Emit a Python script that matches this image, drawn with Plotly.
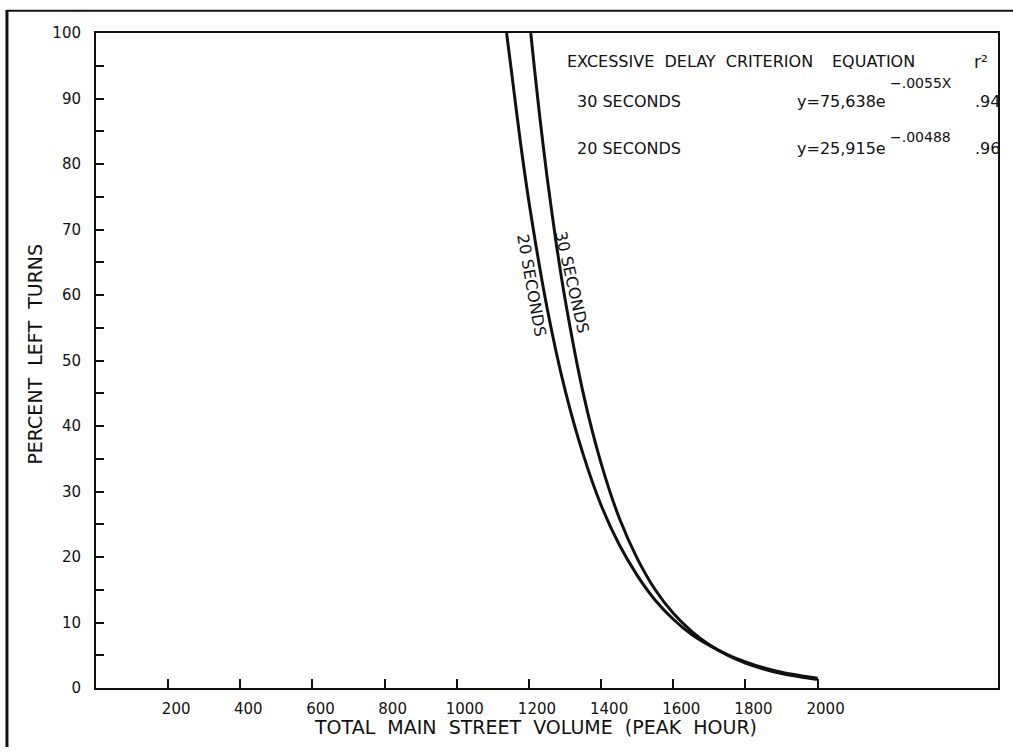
import plotly.graph_objects as go

# Percent left turns vs. total main street volume (peak hour), per delay criterion
vol_20s = [1138, 1150, 1175, 1200, 1250, 1300, 1350, 1400, 1450, 1500,
           1550, 1600, 1650, 1700, 1750, 1800, 1850, 1900, 1950, 2000]
pct_20s = [100, 94.8, 83.9, 74.2, 58.1, 45.5, 35.7, 27.9, 21.9, 17.2,
           13.4, 10.5, 8.2, 6.5, 5.1, 4.0, 3.1, 2.4, 1.9, 1.5]

vol_30s = [1205, 1215, 1230, 1250, 1275, 1300, 1350, 1400, 1450, 1500,
           1550, 1600, 1650, 1700, 1750, 1800, 1850, 1900, 1950, 2000]
pct_30s = [100, 94.7, 87.2, 78.1, 68.1, 59.4, 45.1, 34.3, 26.0, 19.8,
           15.0, 11.4, 8.7, 6.6, 5.0, 3.8, 2.9, 2.2, 1.7, 1.3]

x_ticks = [200, 400, 600, 800, 1000, 1200, 1400, 1600, 1800, 2000]
y_ticks = [0, 10, 20, 30, 40, 50, 60, 70, 80, 90, 100]
y_minor = [5, 15, 25, 35, 45, 55, 65, 75, 85, 95]

# Criterion table rows
crit_labels = ["30 SECONDS", "20 SECONDS"]
eq_base = ["y=75,638e", "y=25,915e"]
eq_exp = ["\u2212.0055X", "\u2212.00488"]
r2_vals = [".94", ".96"]

FONT = "DejaVu Sans"
INK = "#111111"
SP2 = "\u00a0\u00a0"

fig = go.Figure()
for xs, ys in [(vol_20s, pct_20s), (vol_30s, pct_30s)]:
    fig.add_trace(go.Scatter(x=xs, y=ys, mode="lines",
                             line=dict(color=INK, width=3, shape="spline", smoothing=0.6),
                             showlegend=False, hoverinfo="skip"))

fig.update_layout(
    width=1013, height=755,
    margin=dict(l=96, r=15, t=33, b=67),
    paper_bgcolor="white", plot_bgcolor="white",
    font=dict(family=FONT, size=15, color=INK),
    xaxis=dict(range=[0, 2500], showgrid=False, zeroline=False,
               showline=True, linewidth=2, linecolor=INK, mirror=True,
               ticks="inside", ticklen=9, tickwidth=2, tickcolor=INK,
               tickvals=x_ticks, ticktext=[str(v) for v in x_ticks],
               ticklabelshift=8, ticklabelstandoff=6),
    yaxis=dict(range=[0, 100], showgrid=False, zeroline=False,
               showline=True, linewidth=2, linecolor=INK, mirror=True,
               ticks="inside", ticklen=8, tickwidth=2, tickcolor=INK,
               tickvals=y_ticks, ticktext=[str(v) for v in y_ticks],
               ticklabelstandoff=10,
               minor=dict(tickvals=y_minor, ticks="inside", ticklen=8,
                          tickwidth=2, tickcolor=INK)),
)

def note(x, y, text, anchor="left", size=16, angle=0):
    fig.add_annotation(x=x, y=y, xref="x", yref="y", text=text, showarrow=False,
                       xanchor=anchor, yanchor="middle", textangle=angle,
                       font=dict(family=FONT, size=size, color=INK))

# Axis titles
fig.add_annotation(x=0.487, y=-0.0595, xref="paper", yref="paper", showarrow=False,
                   xanchor="center", yanchor="middle",
                   text=SP2.join(["TOTAL", "MAIN", "STREET", "VOLUME", "(PEAK", "HOUR)"]),
                   font=dict(family=FONT, size=19, color=INK))
fig.add_annotation(x=-0.068, y=0.51, xref="paper", yref="paper", showarrow=False,
                   xanchor="center", yanchor="middle", textangle=-90,
                   text=SP2.join(["PERCENT", "LEFT", "TURNS"]),
                   font=dict(family=FONT, size=19, color=INK))

# Table heading
note(1300, 95.6, SP2.join(["EXCESSIVE", "DELAY", "CRITERION"]))
note(2034, 95.6, "EQUATION")
note(2428, 95.6, "r\u00b2", size=17)

row_y = [89.5, 82.4]
exp_y = [92.4, 84.1]
for i in range(2):
    note(1328, row_y[i], crit_labels[i])
    note(2195, row_y[i], eq_base[i], anchor="right")
    note(2195, exp_y[i], eq_exp[i], size=14)
    note(2431, row_y[i], r2_vals[i])

# Curve labels written along the curves
note(1208, 61.5, "20 SECONDS", anchor="center", angle=80)
note(1318, 62.0, "30 SECONDS", anchor="center", angle=77)

# Outer frame lines
fig.add_shape(type="line", xref="paper", yref="paper",
              x0=-0.0987, x1=-0.0987, y0=1.035, y1=-0.09,
              line=dict(color=INK, width=3))
fig.add_shape(type="line", xref="paper", yref="paper",
              x0=-0.0987, x1=1.02, y0=1.034, y1=1.034,
              line=dict(color=INK, width=2))

fig.write_html("out.html")
